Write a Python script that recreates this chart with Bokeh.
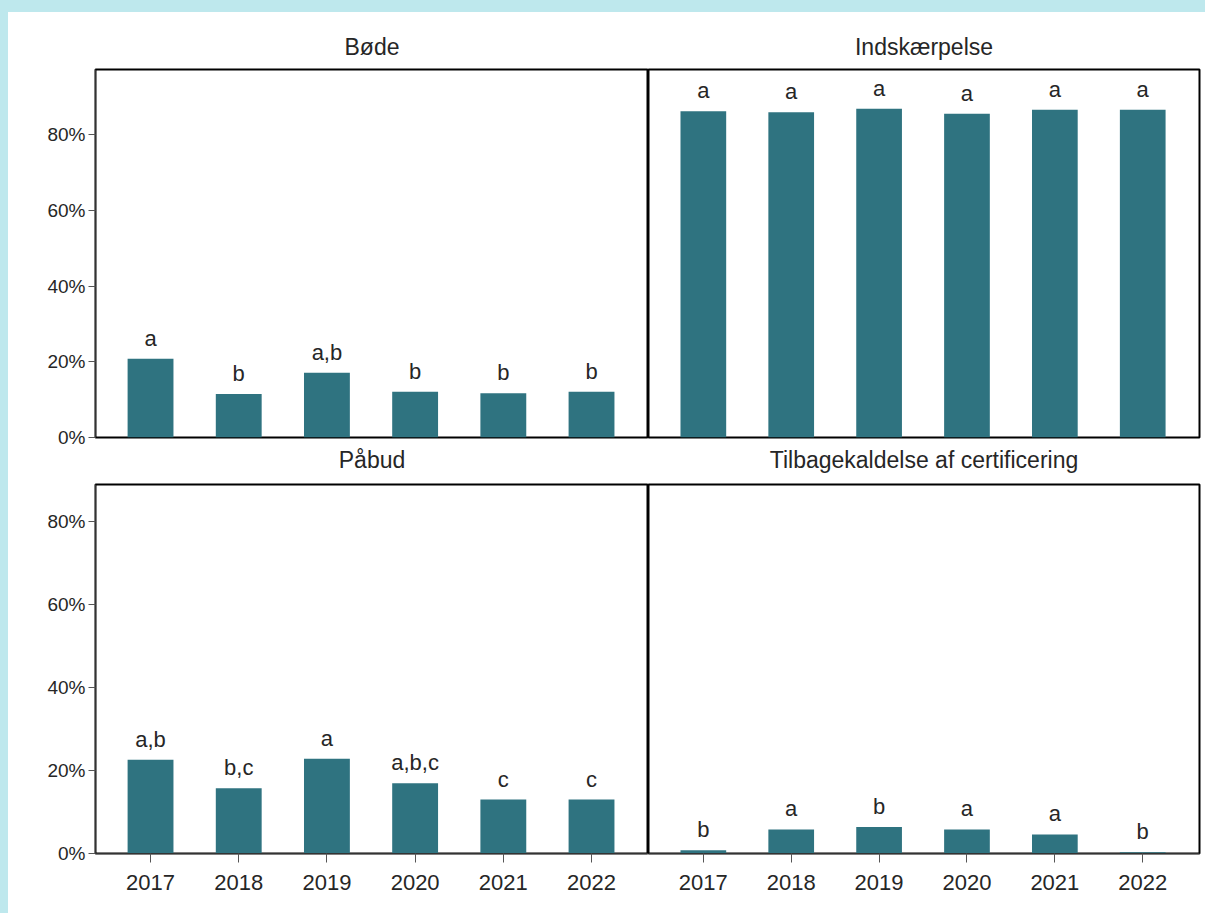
from bokeh.plotting import figure
from bokeh.models import (Range1d, FixedTicker, NumeralTickFormatter, ColumnDataSource,
                          LabelSet, GlobalInlineStyleSheet, Title)
from bokeh.core.properties import value
from bokeh.layouts import gridplot
from bokeh.embed import file_html
from bokeh.resources import INLINE

# ---- data ----
years = [2017, 2018, 2019, 2020, 2021, 2022]
year_labels = ["2017", "2018", "2019", "2020", "2021", "2022"]
panel_titles = ["Bøde", "Indskærpelse", "Påbud", "Tilbagekaldelse af certificering"]

bode = [0.208, 0.115, 0.171, 0.121, 0.117, 0.121]
bode_letters = ["a", "b", "a,b", "b", "b", "b"]

indskaerpelse = [0.862, 0.859, 0.868, 0.855, 0.866, 0.866]
indskaerpelse_letters = ["a", "a", "a", "a", "a", "a"]

pabud = [0.226, 0.157, 0.228, 0.169, 0.130, 0.130]
pabud_letters = ["a,b", "b,c", "a", "a,b,c", "c", "c"]

tilbagekaldelse = [0.008, 0.058, 0.064, 0.058, 0.046, 0.003]
tilbagekaldelse_letters = ["b", "a", "b", "a", "a", "b"]

y_ticks = [0.0, 0.2, 0.4, 0.6, 0.8]

# ---- style ----
FONT = "Liberation Sans"
BAR = "#2f7380"
TXT = "#262626"


def make_title(text, standoff):
    return Title(text=text, align="center", text_font=FONT, text_font_size="23px",
                 text_font_style="normal", text_color=TXT, standoff=standoff)


def make_panel(values, letters, top_row, left_col):
    width = 640 if left_col else 557
    height = 469 if top_row else 432
    ymax = 0.972 if top_row else 0.889
    p = figure(width=width, height=height,
               x_range=Range1d(2016.376, 2022.646), y_range=Range1d(0, ymax),
               output_backend="svg", toolbar_location=None,
               min_border_left=87 if left_col else 0,
               min_border_right=0 if left_col else 6,
               min_border_top=57 if top_row else 3,
               min_border_bottom=44 if top_row else 60)
    src = ColumnDataSource(dict(x=years, top=values, label=letters))
    p.vbar(x="x", top="top", width=0.52, source=src, fill_color=BAR, line_color=None)
    p.add_layout(LabelSet(x="x", y="top", text="label", source=src, y_offset=13,
                          text_align="center", text_baseline="alphabetic",
                          text_font=value(FONT), text_font_size=value("22px"),
                          text_color=TXT))
    p.grid.visible = False
    p.outline_line_color = "black"
    p.outline_line_width = 2
    p.outline_line_alpha = 1
    p.background_fill_color = "white"
    p.border_fill_color = "white"

    for ax in p.xaxis + p.yaxis:
        ax.axis_line_color = "#333333"
        ax.axis_line_width = 1
        ax.major_tick_line_color = "#555555"
        ax.major_tick_line_width = 1
        ax.major_tick_in = 0
        ax.minor_tick_line_color = None
        ax.major_label_text_font = FONT
        ax.major_label_text_color = TXT
        ax.major_label_text_font_style = "normal"

    p.yaxis.ticker = FixedTicker(ticks=y_ticks)
    p.yaxis.formatter = NumeralTickFormatter(format="0%")
    p.yaxis.major_tick_out = 7
    p.yaxis.major_label_standoff = 3
    p.yaxis.major_label_text_font_size = "19px"

    p.xaxis.ticker = FixedTicker(ticks=years)
    p.xaxis.major_label_overrides = {y: l for y, l in zip(years, year_labels)}
    p.xaxis.major_tick_out = 9
    p.xaxis.major_label_standoff = 12
    p.xaxis.major_label_text_font_size = "22px"

    if top_row:
        p.xaxis.visible = False
    if not left_col:
        p.yaxis.visible = False
    return p


p1 = make_panel(bode, bode_letters, True, True)
p2 = make_panel(indskaerpelse, indskaerpelse_letters, True, False)
p3 = make_panel(pabud, pabud_letters, False, True)
p4 = make_panel(tilbagekaldelse, tilbagekaldelse_letters, False, False)

# titles of the upper panels sit above them; titles of the lower panels are
# placed in the gap under the upper panels
p1.add_layout(make_title(panel_titles[0], 20), "above")
p2.add_layout(make_title(panel_titles[1], 20), "above")
p1.add_layout(make_title(panel_titles[2], 15), "below")
p2.add_layout(make_title(panel_titles[3], 15), "below")

p = gridplot([[p1, p2], [p3, p4]], toolbar_location=None)
p.styles = {"background-color": "white"}
p.stylesheets = [GlobalInlineStyleSheet(
    css="html, body { background: #bee8ed; margin: 0; } body { margin: 12px 0 0 8px; overflow: hidden; }")]

open("out.html", "w").write(file_html(p, INLINE))
